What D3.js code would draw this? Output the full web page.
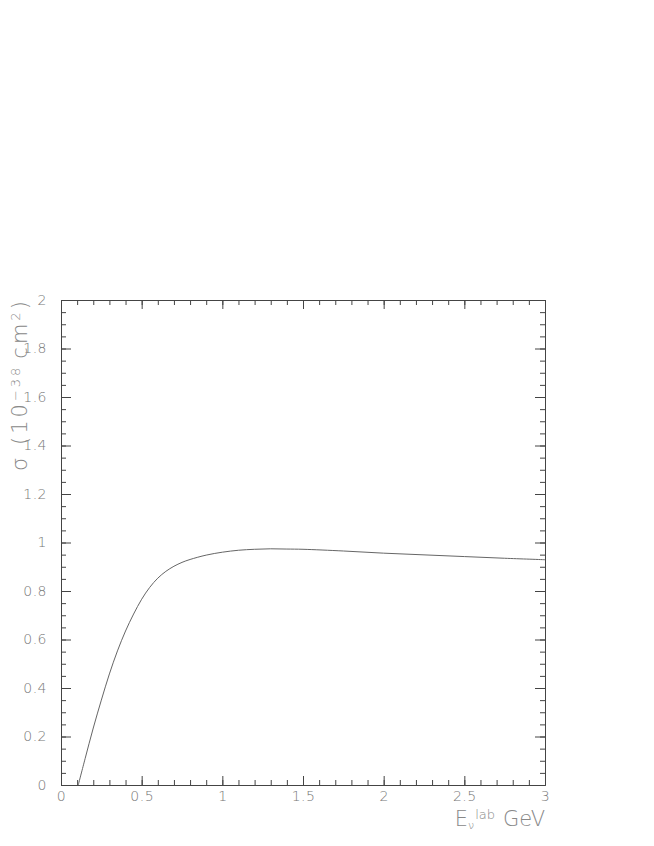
<!DOCTYPE html>
<html>
<head>
<meta charset="utf-8">
<script src="https://d3js.org/d3.v7.min.js"></script>
<style>
  body { margin: 0; background: #fff; }
  .ax text { font-family: "DejaVu Sans", sans-serif; font-weight: 200; fill: #777; font-size: 14px; letter-spacing: 0.5px; }
  .ax line, .ax path { stroke: #444; stroke-width: 1; }
  .ttl { font-family: "DejaVu Sans", sans-serif; font-weight: 200; fill: #888; }
</style>
</head>
<body>
<div id="graph-area"></div>
<script>
  // cross section
  const energy = [0.107, 0.15, 0.2, 0.25, 0.3, 0.35, 0.4, 0.45, 0.5, 0.55, 0.6, 0.65, 0.7, 0.75, 0.8,
                  0.9, 1.0, 1.1, 1.2, 1.3, 1.4, 1.5, 1.75, 2.0, 2.25, 2.5, 2.75, 3.0];
  const sigma  = [0, 0.11, 0.235, 0.35, 0.458, 0.553, 0.635, 0.705, 0.766, 0.815, 0.853, 0.881, 0.902, 0.918, 0.93,
                  0.948, 0.96, 0.968, 0.972, 0.974, 0.973, 0.972, 0.965, 0.956, 0.949, 0.942, 0.935, 0.929];

  const xTicks = [0, 0.5, 1, 1.5, 2, 2.5, 3];
  const xTickLabels = ["0", "0.5", "1", "1.5", "2", "2.5", "3"];
  const yTicks = [0, 0.2, 0.4, 0.6, 0.8, 1, 1.2, 1.4, 1.6, 1.8, 2];
  const yTickLabels = ["0", "0.2", "0.4", "0.6", "0.8", "1", "1.2", "1.4", "1.6", "1.8", "2"];
  const xMinor = d3.range(0, 31).map(d => d / 10);
  const yMinor = d3.range(0, 41).map(d => d / 20);

  const w = 654;
  const h = 846;
  const pLeft = 61, pRight = 545, pTop = 300, pBottom = 785;

  const xScale = d3.scaleLinear().domain([0, 3]).range([pLeft, pRight]);
  const yScale = d3.scaleLinear().domain([0, 2]).range([pBottom, pTop]);

  const svg = d3.select("#graph-area").append("svg")
                .attr("width", w)
                .attr("height", h);

  // minor ticks on all four sides
  svg.append("g").attr("class", "ax")
     .attr("transform", "translate(0," + pBottom + ")")
     .call(d3.axisBottom(xScale).tickValues(xMinor).tickSizeInner(-5).tickSizeOuter(0).tickFormat(""));
  svg.append("g").attr("class", "ax")
     .attr("transform", "translate(0," + pTop + ")")
     .call(d3.axisTop(xScale).tickValues(xMinor).tickSizeInner(-5).tickSizeOuter(0).tickFormat(""));
  svg.append("g").attr("class", "ax")
     .attr("transform", "translate(" + pLeft + ",0)")
     .call(d3.axisLeft(yScale).tickValues(yMinor).tickSizeInner(-5).tickSizeOuter(0).tickFormat(""));
  svg.append("g").attr("class", "ax")
     .attr("transform", "translate(" + pRight + ",0)")
     .call(d3.axisRight(yScale).tickValues(yMinor).tickSizeInner(-5).tickSizeOuter(0).tickFormat(""));

  // major ticks + labels
  svg.append("g").attr("class", "ax")
     .attr("transform", "translate(0," + pBottom + ")")
     .call(d3.axisBottom(xScale).tickValues(xTicks).tickSizeInner(-9).tickSizeOuter(0).tickPadding(6)
             .tickFormat((d, i) => xTickLabels[i]));
  svg.append("g").attr("class", "ax")
     .attr("transform", "translate(0," + pTop + ")")
     .call(d3.axisTop(xScale).tickValues(xTicks).tickSizeInner(-9).tickSizeOuter(0).tickFormat(""));
  svg.append("g").attr("class", "ax")
     .attr("transform", "translate(" + pLeft + ",0)")
     .call(d3.axisLeft(yScale).tickValues(yTicks).tickSizeInner(-10).tickSizeOuter(0).tickPadding(14)
             .tickFormat((d, i) => yTickLabels[i]));
  svg.append("g").attr("class", "ax")
     .attr("transform", "translate(" + pRight + ",0)")
     .call(d3.axisRight(yScale).tickValues(yTicks).tickSizeInner(-10).tickSizeOuter(0).tickFormat(""));

  // the curve
  svg.append("path")
     .datum(d3.zip(energy, sigma))
     .attr("fill", "none")
     .attr("stroke", "#666")
     .attr("stroke-width", 1)
     .attr("d", d3.line()
        .x(d => xScale(d[0]))
        .y(d => yScale(d[1]))
        .curve(d3.curveCatmullRom.alpha(0.5)));

  // x axis title
  const xt = svg.append("text").attr("class", "ttl")
     .attr("x", pRight)
     .attr("y", 826)
     .attr("text-anchor", "end")
     .style("font-size", "21px");
  xt.append("tspan").text("E");
  xt.append("tspan").attr("baseline-shift", "-30%").style("font-size", "11px").text("ν");
  xt.append("tspan").attr("baseline-shift", "55%").style("font-size", "13px").attr("dx", 1).text("lab");
  xt.append("tspan").attr("dx", 8).text("GeV");

  // y axis title
  const yt = svg.append("text").attr("class", "ttl")
     .attr("transform", "translate(27,471) rotate(-90)")
     .attr("text-anchor", "start")
     .style("font-size", "21px")
     .style("letter-spacing", "3px");
  yt.append("tspan").text("σ (10");
  yt.append("tspan").attr("baseline-shift", "55%").style("font-size", "13px").text("−38");
  yt.append("tspan").attr("dx", 6).text("cm");
  yt.append("tspan").attr("baseline-shift", "55%").style("font-size", "13px").text("2");
  yt.append("tspan").text(")");
</script>
</body>
</html>
